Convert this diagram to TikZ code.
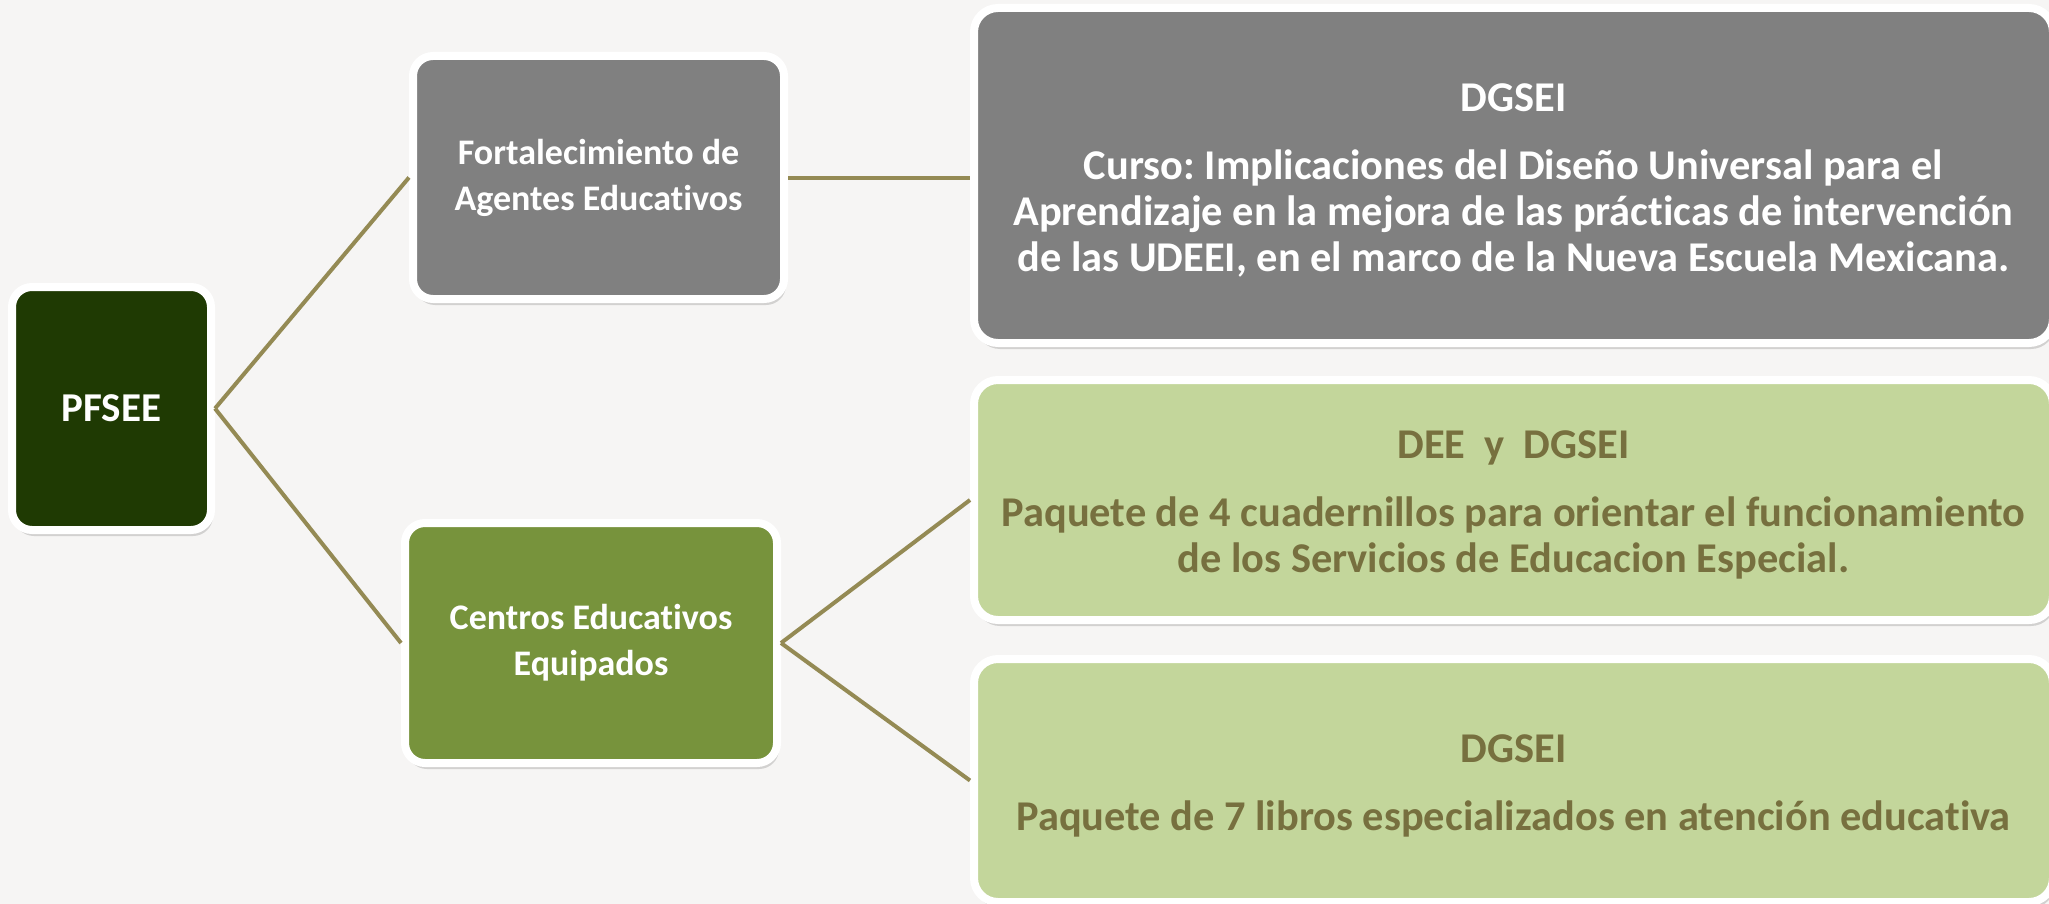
\documentclass[tikz,border=0pt]{standalone}
\usepackage{fontspec}
\setmainfont{Carlito}[Ligatures=NoCommon]
\usetikzlibrary{positioning, shadows}
\definecolor{pfdark}{RGB}{31,58,3}
\definecolor{pfgray}{RGB}{128,128,128}
\definecolor{pfolive}{RGB}{119,147,60}
\definecolor{pflight}{RGB}{195,214,155}
\definecolor{pftext}{RGB}{119,112,63}
\definecolor{pfline}{RGB}{148,138,84}
\definecolor{pfback}{RGB}{246,245,244}
\frenchspacing
% title line of a wide card, with a little air above it
\newcommand\cardtitle[1]{\raisebox{0pt}[\dimexpr\height+5pt\relax]{#1}}

\tikzset{
  card/.style={draw=white, line width=4pt, rounded corners=10pt, inner sep=0pt, align=center,
    font=\bfseries\fontsize{18}{23}\selectfont,
    drop shadow={shadow xshift=1pt, shadow yshift=-3pt, opacity=0.3}},
  widecard/.style={card, rounded corners=12pt, minimum width=539.5pt,
    font=\bfseries\fontsize{21.2}{23}\selectfont},
  link/.style={draw=pfline, line width=2pt},
}

\begin{document}
\begin{tikzpicture}[x=0.5pt, y=-0.5pt]
  \useasboundingbox (0,0) rectangle (2049,904);
  \fill[pfback] (0,0) rectangle (2049,904);

  % program and its two components
  \node[card, fill=pfdark, text=white, minimum width=99.5pt, minimum height=121.5pt,
    font=\bfseries\fontsize{20.5}{24}\selectfont] (pfsee) at (111.5,408.5) {PFSEE};
  \node[card, fill=pfgray, text=white, minimum width=185.5pt, minimum height=121.5pt] (fort) at (598.5,177.5)
    {Fortalecimiento de\\Agentes Educativos};
  \node[card, fill=pfolive, text=white, minimum width=186pt, minimum height=120pt] (centros) at (591,643)
    {Centros Educativos\\Equipados};

  % actions
  \node[widecard, fill=pfgray, text=white, minimum height=167.5pt] (curso) at (1513.5,175.5)
    {\cardtitle{DGSEI}\\[11pt]
     Curso: Implicaciones del Diseño Universal para el\\
     Aprendizaje en la mejora de las prácticas de intervención\\
     de las UDEEI, en el marco de la Nueva Escuela Mexicana.};
  \node[widecard, fill=pflight, text=pftext, minimum height=120pt] (cuad) at (1513.5,500)
    {\cardtitle{DEE~~y~~DGSEI}\\[11pt]
     Paquete de 4 cuadernillos para orientar el funcionamiento\\
     de los Servicios de Educacion Especial.};
  \node[widecard, fill=pflight, text=pftext, minimum height=121.5pt] (libros) at (1513.5,780.5)
    {\cardtitle{DGSEI}\\[11pt]
     Paquete de 7 libros especializados en atención educativa};

  % connectors
  \draw[link] (pfsee.east) -- (fort.west);
  \draw[link] (pfsee.east) -- (centros.west);
  \draw[link] (fort.east) -- (fort.east -| curso.west);
  \draw[link] (centros.east) -- (cuad.west);
  \draw[link] (centros.east) -- (libros.west);
\end{tikzpicture}
\end{document}
